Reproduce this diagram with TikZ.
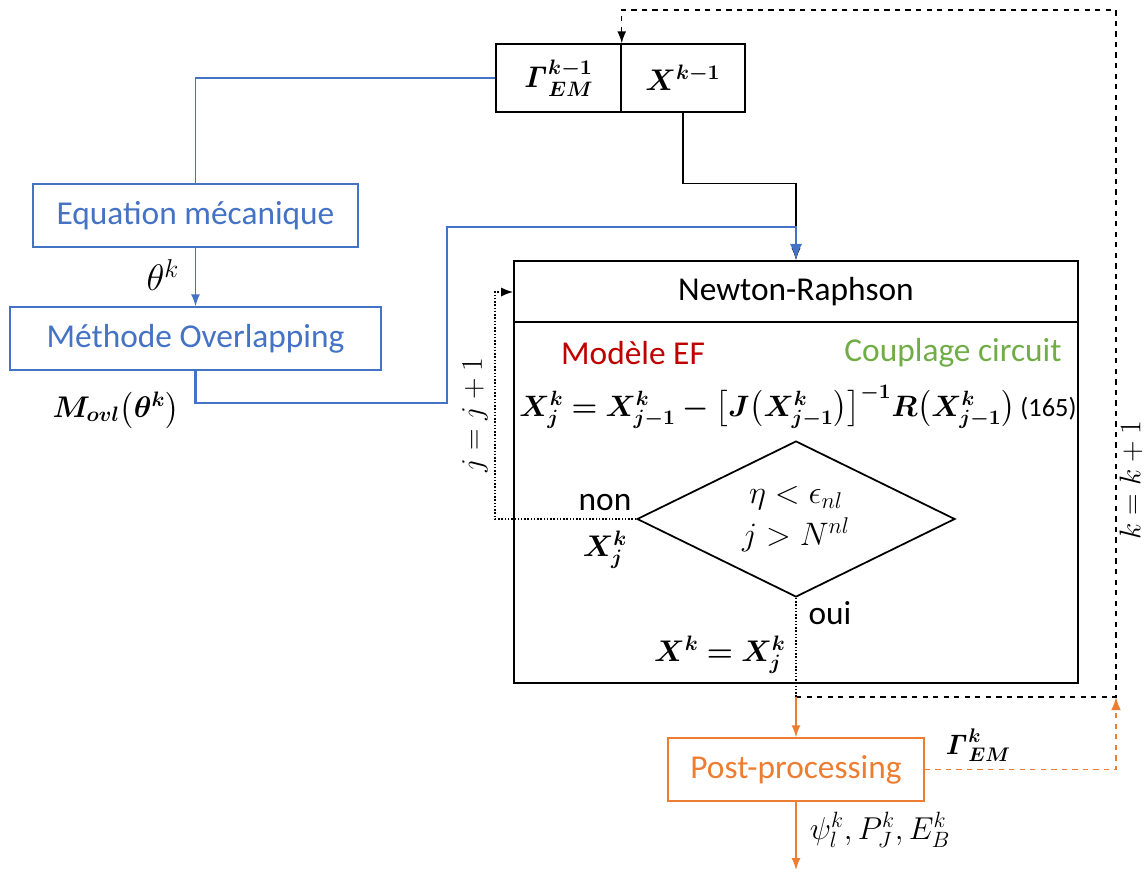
\RequirePackage{fix-cm}
\documentclass[tikz,border=0pt]{standalone}
\usepackage[no-math]{fontspec}
\setmainfont{Carlito}
\usepackage{amsmath}
\usepackage{bm}
\usetikzlibrary{arrows.meta}
\usetikzlibrary{positioning}
\usetikzlibrary{shapes.geometric}
\definecolor{bleu}{HTML}{4472C4}
\definecolor{orangeb}{HTML}{ED7D31}
\definecolor{rouge}{HTML}{C00000}
\definecolor{vert}{HTML}{70AD47}
\newcommand{\Gam}{\mathit{\Gamma}}

\begin{document}
\begin{tikzpicture}[x=0.02cm,y=-0.02cm,
	every node/.style={font=\fontsize{19}{23}\selectfont},
	maths/.style={font=\fontsize{17}{21}\selectfont},
	cadre/.style={draw, line width=0.85pt, minimum height=1.26cm, inner sep=0pt},
	fil/.style={line width=0.85pt}]
		\useasboundingbox (0,0) rectangle (1145,873);
		% boites
		\node[cadre, maths, minimum width=2.5cm, minimum height=1.36cm] (gam) at (558.5,78) {$\bm{\Gam_{EM}^{k-1}}$};
		\node[cadre, maths, minimum width=2.48cm, minimum height=1.36cm] (xprev) at (683,78) {$\bm{X^{k-1}}$};
		\node[cadre, draw=bleu, text=bleu, minimum width=6.5cm] (eqmec) at (195.5,215.5) {Equation mécanique};
		\node[cadre, draw=bleu, text=bleu, minimum width=7.42cm] (ovl) at (195.5,338.5) {Méthode Overlapping};
		\node[cadre, line width=1pt, minimum width=11.28cm, minimum height=8.44cm] (nr) at (796,472) {};
		\node (nrtitle) at (796,292) {Newton-Raphson};
		\draw[line width=1pt] ([yshift=-1.24cm]nr.north west) -- ([yshift=-1.24cm]nr.north east);
		\node[text=rouge, inner sep=0pt] (ef) at (633,353) {Modèle EF};
		\node[text=vert, inner sep=0pt] (cc) at (953,353) {Couplage circuit};
		\node[font=\fontsize{16.8}{20}\selectfont, inner sep=0pt] (eq) at (798,407) {$\bm{X_j^k = X_{j-1}^k - \bigl[J\bigl(X_{j-1}^k\bigr)\bigr]^{-1} R\bigl(X_{j-1}^k\bigr)}$\,{\fontsize{15}{18}\selectfont(165)}};
		\node[diamond, draw, line width=1pt, aspect=2, inner sep=0pt, minimum width=6.36cm, minimum height=3.12cm, align=center, font=\fontsize{18.5}{22}\selectfont] (dia) at (796,519) {$\eta<\epsilon_{nl}$\\[2pt]$j>N^{nl}$};
		\node[cadre, draw=orangeb, text=orangeb, minimum width=5.12cm] (post) at (796,769.5) {Post-processing};
		% labels
		\node[font=\fontsize{21}{24}\selectfont] (theta) at (163,275) {$\theta^k$};
		\node[maths] (movl) at (116,410) {$\bm{M_{ovl}\bigl(\theta^k\bigr)}$};
		\node (non) at (605,503) {non};
		\node[maths] (xj) at (605,550) {$\bm{X_j^k}$};
		\node (oui) at (830,613) {oui};
		\node[maths] (xk) at (720,655) {$\bm{X^k = X_j^k}$};
		\node[rotate=90, maths] (jinc) at (475,415) {$j = j + 1$};
		\node[rotate=90, maths] (kinc) at (1131,480) {$k = k + 1$};
		\node[font=\fontsize{16}{20}\selectfont] (gk) at (978,745) {$\bm{\Gam_{EM}^k}$};
		\node[font=\fontsize{18}{22}\selectfont] (sorties) at (880,830) {$\psi_l^k, P_J^k, E_B^k$};
		% connexions
		\coordinate (bl1) at (447,403);
		\coordinate (bl2) at (447,227);
		\coordinate (jloop) at (495,292);
		\coordinate (oo) at (796,697);
		\coordinate (kk) at (1116,10);
		\coordinate (out) at (796,870);
		\draw[fil, bleu] (gam.west) -| (eqmec.north);
		\draw[fil, bleu, -Latex] (eqmec) -- (ovl);
		\draw[-Latex, fil] (xprev.south) -- ++(0,71) -| (nr.north);
		\draw[bleu, line width=1.4pt, -Latex] (ovl.south) |- (bl1) -- (bl2) -| (nr.north);
		\draw[fil, densely dotted, -Latex] (dia.west) -| (jloop) -- (jloop -| nr.west);
		\draw[fil, densely dotted] (dia.south) -- (oo);
		\draw[fil, dashed, -Latex] (oo) -| (kk) -| (gam.north east);
		\draw[fil, orangeb, -Latex] (oo) -- (post.north);
		\draw[orangeb, line width=1pt, dashed, -Latex] (post.east) -| (kk |- oo);
		\draw[fil, orangeb, -Latex] (post.south) -- (out);
	    \end{tikzpicture}
\end{document}
